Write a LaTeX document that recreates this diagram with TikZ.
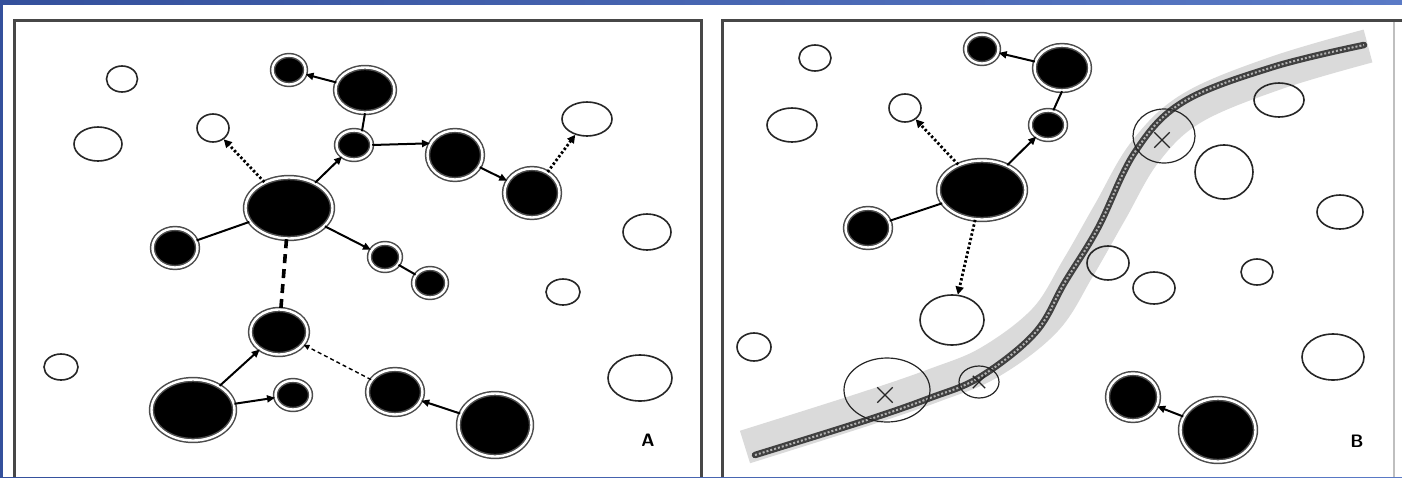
\documentclass[tikz,border=0pt]{standalone}
\usetikzlibrary{arrows.meta,shapes.geometric,shapes.misc}
\definecolor{bandL}{HTML}{34509C}
\definecolor{bandR}{HTML}{5A7AC6}
\definecolor{frameC}{HTML}{474747}
\definecolor{riverC}{HTML}{DADADA}
\begin{document}
\begin{tikzpicture}[x=1pt,y=-1pt,
  open/.style={ellipse, draw=black!85, line width=1.6pt, inner sep=0pt},
  dbl/.style={ellipse, inner sep=0pt, fill=black, draw=black!70, double=white, double distance=2.4pt, line width=1.5pt},
  xcirc/.style={ellipse, draw=black!85, line width=1.2pt, inner sep=0pt},
  xmark/.style={cross out, draw=black!85, line width=1.3pt, inner sep=0pt},
  solidarrow/.style={draw, line width=2pt, -{Triangle[length=8pt,width=7pt]}},
  plainline/.style={draw, line width=2pt},
  dotarrow/.style={draw, line width=2.8pt, dash pattern=on 2.4pt off 2.2pt, -{Triangle[length=8pt,width=8pt]}},
  thickdash/.style={draw, line width=3.6pt, dash pattern=on 9pt off 6pt},
  thindash/.style={draw, line width=1.4pt, dash pattern=on 4pt off 3pt, -{Triangle[length=6pt,width=5pt]}},
  panellabel/.style={font=\sffamily\bfseries\fontsize{18}{18}\selectfont, inner sep=0pt}
]
\useasboundingbox (0,0) rectangle (1402,477);
% blue background
\shade[left color=bandL, right color=bandR] (0,0) rectangle (1402,477);
\fill[white] (3,5) rectangle (1402,477);
% panel frames
\draw[frameC, line width=3pt] (14,477) -- (14,20) -- (701,20) -- (701,477);
\draw[frameC, line width=3pt] (722,477) -- (722,20) -- (1402,20);
\draw[black!25, line width=1.5pt] (1394,22) -- (1394,477);

% ================= Panel A =================
\node[open, minimum width=31pt, minimum height=26pt] (a1) at (122,79) {};
\node[open, minimum width=48pt, minimum height=34pt] (a2) at (98,144) {};
\node[open, minimum width=32pt, minimum height=28pt] (a3) at (213,128) {};
\node[dbl, minimum width=33pt, minimum height=29pt] (a4) at (289,70) {};
\node[dbl, minimum width=59pt, minimum height=45pt] (a5) at (365,90) {};
\node[dbl, minimum width=35pt, minimum height=29pt] (a6) at (354,145) {};
\node[dbl, minimum width=55pt, minimum height=49pt] (a7) at (455,155) {};
\node[dbl, minimum width=55pt, minimum height=49pt] (a8) at (532,193) {};
\node[open, minimum width=50pt, minimum height=34pt] (a9) at (587,119) {};
\node[open, minimum width=48pt, minimum height=36pt] (a10) at (647,232) {};
\node[dbl, minimum width=87pt, minimum height=61pt] (a11) at (289,208) {};
\node[dbl, minimum width=45pt, minimum height=39pt] (a12) at (175,248) {};
\node[dbl, minimum width=31pt, minimum height=27pt] (a13) at (385,257) {};
\node[dbl, minimum width=33pt, minimum height=29pt] (a14) at (430,283) {};
\node[dbl, minimum width=57pt, minimum height=45pt] (a15) at (279,332) {};
\node[dbl, minimum width=83pt, minimum height=61pt] (a16) at (193,410) {};
\node[dbl, minimum width=35pt, minimum height=29pt] (a17) at (293,395) {};
\node[open, minimum width=34pt, minimum height=26pt] (a18) at (61,367) {};
\node[dbl, minimum width=55pt, minimum height=45pt] (a19) at (395,392) {};
\node[dbl, minimum width=73pt, minimum height=63pt] (a20) at (495,425) {};
\node[open, minimum width=34pt, minimum height=26pt] (a21) at (563,292) {};
\node[open, minimum width=64pt, minimum height=46pt] (a22) at (640,378) {};
\node[panellabel] (labA) at (648,440) {A};

\path[solidarrow] (a5) -- (a4);
\path[plainline] (a5.south) -- (a6.60);
\path[solidarrow] (a6.east) -- (a7.155);
\path[solidarrow] (a11) -- (a6);
\path[dotarrow] (a11) -- (a3);
\path[plainline] (a11) -- (a12);
\path[solidarrow] (a11) -- (a13);
\path[plainline] (a13) -- (a14);
\path[solidarrow] (a7) -- (a8);
\path[dotarrow] (a8) -- (a9);
\path[thickdash] (a11) -- (a15);
\path[solidarrow] (a16) -- (a15);
\path[solidarrow] (a16) -- (a17);
\path[thindash] (a19) -- (a15);
\path[solidarrow] (a20) -- (a19);

% ================= Panel B =================
% river band
\draw[riverC, line width=34pt, line cap=butt] plot[smooth, tension=0.6] coordinates
  {(745,447) (862,410) (935,385) (990,362) (1045,320) (1078,268) (1110,212) (1145,152) (1192,108) (1276,73) (1368,46)};
\draw[black!75, line width=6.5pt, line cap=round] plot[smooth, tension=0.6] coordinates
  {(755,455) (867,420) (930,398) (980,377) (1035,333) (1065,282) (1098,228) (1135,152) (1183,102) (1273,67) (1364,45)};
\draw[white!70!black, line width=2pt, dash pattern=on 2pt off 2pt] plot[smooth, tension=0.6] coordinates
  {(755,455) (867,420) (930,398) (980,377) (1035,333) (1065,282) (1098,228) (1135,152) (1183,102) (1273,67) (1364,45)};

\node[open, minimum width=32pt, minimum height=26pt] (b1) at (815,58) {};
\node[open, minimum width=50pt, minimum height=34pt] (b2) at (792,125) {};
\node[open, minimum width=32pt, minimum height=28pt] (b3) at (905,108) {};
\node[dbl, minimum width=33pt, minimum height=29pt] (b4) at (982,49) {};
\node[dbl, minimum width=55pt, minimum height=45pt] (b5) at (1062,68) {};
\node[dbl, minimum width=35pt, minimum height=29pt] (b6) at (1048,125) {};
\node[dbl, minimum width=87pt, minimum height=59pt] (b7) at (982,190) {};
\node[dbl, minimum width=45pt, minimum height=39pt] (b8) at (868,228) {};
\node[open, minimum width=64pt, minimum height=50pt] (b9) at (952,320) {};
\node[open, minimum width=34pt, minimum height=28pt] (b10) at (754,347) {};
\node[xcirc, minimum width=86pt, minimum height=64pt] (x1) at (887,390) {};
\node[xmark, minimum width=14pt, minimum height=14pt] (x1m) at (885,395) {};
\node[xcirc, minimum width=40pt, minimum height=32pt] (x2) at (979,382) {};
\node[xmark, minimum width=11pt, minimum height=11pt] (x2m) at (979,382) {};
\node[xcirc, minimum width=62pt, minimum height=54pt] (x3) at (1164,136) {};
\node[xmark, minimum width=14pt, minimum height=14pt] (x3m) at (1162,140) {};
\node[open, minimum width=50pt, minimum height=34pt] (b11) at (1279,100) {};
\node[open, minimum width=58pt, minimum height=54pt] (b12) at (1224,172) {};
\node[open, minimum width=46pt, minimum height=34pt] (b13) at (1340,212) {};
\node[open, minimum width=42pt, minimum height=34pt] (b14) at (1108,263) {};
\node[open, minimum width=42pt, minimum height=32pt] (b15) at (1154,288) {};
\node[open, minimum width=32pt, minimum height=26pt] (b16) at (1257,272) {};
\node[open, minimum width=62pt, minimum height=46pt] (b17) at (1333,357) {};
\node[dbl, minimum width=51pt, minimum height=47pt] (b18) at (1133,397) {};
\node[dbl, minimum width=75pt, minimum height=63pt] (b19) at (1218,430) {};
\node[panellabel] (labB) at (1357,441) {B};

\path[solidarrow] (b5) -- (b4);
\path[plainline] (b5.south) -- (b6.70);
\path[solidarrow] (b7) -- (b6);
\path[dotarrow] (b7) -- (b3);
\path[plainline] (b7) -- (b8);
\path[dotarrow] (b7) -- (b9);
\path[solidarrow] (b19) -- (b18);
\end{tikzpicture}
\end{document}
